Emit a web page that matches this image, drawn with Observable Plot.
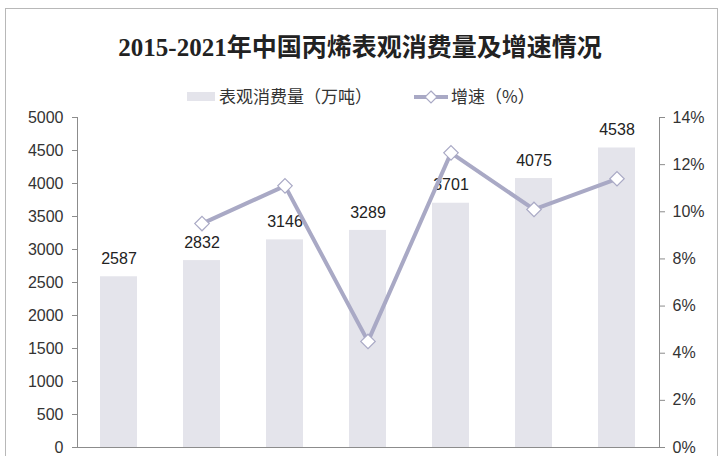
<!DOCTYPE html>
<html><head><meta charset="utf-8">
<script src="https://cdn.jsdelivr.net/npm/d3@7"></script>
<script src="https://cdn.jsdelivr.net/npm/@observablehq/plot@0.6"></script>
<style>
body{margin:0;background:#fff;}
#wrap{position:relative;width:720px;height:456px;overflow:hidden;font-family:"Liberation Sans",Arial,sans-serif;background:#fff;}
#frame{position:absolute;left:5px;top:8px;width:711px;height:470px;border:1px solid #b8b8b8;}
#title{position:absolute;left:0;top:27px;width:720px;text-align:center;font:bold 25px "Liberation Serif","Noto Sans CJK SC",serif;color:#222;white-space:nowrap;}
.lg{position:absolute;top:85px;font:17px "Noto Sans CJK SC",sans-serif;color:#333;white-space:nowrap;line-height:22px;}
#sw1{position:absolute;left:187px;top:92px;width:28px;height:9px;background:#e4e4eb;}
#sw2{position:absolute;left:412px;top:87px;}
#chart{position:absolute;left:0;top:105px;}
</style></head>
<body>
<div id="wrap">
  <div id="frame"></div>
  <div id="title">2015-2021年中国丙烯表观消费量及增速情况</div>
  <div id="sw1"></div>
  <div class="lg" style="left:219px">表观消费量（万吨）</div>
  <svg id="sw2" width="38" height="20"><line x1="2" y1="10" x2="36" y2="10" stroke="#a9a9c5" stroke-width="4"/><path d="M19,4 L25,10 L19,16 L13,10 Z" fill="#fff" stroke="#a9a9c5" stroke-width="1.2"/></svg>
  <div class="lg" style="left:451px">增速（%）</div>
  <div id="chart"></div>
</div>
<script>
const years = ["2015","2016","2017","2018","2019","2020","2021"];
const consumption = [2587, 2832, 3146, 3289, 3701, 4075, 4538];
const growthYears = ["2016","2017","2018","2019","2020","2021"];
const growth = [9.5, 11.1, 4.5, 12.5, 10.1, 11.4];
const leftTicks = [0,500,1000,1500,2000,2500,3000,3500,4000,4500,5000];
const pctTicks = [0,2,4,6,8,10,12,14];
const yMax = 5000, pMax = 14;

const bars = years.map((y,i)=>({year:y, value:consumption[i]}));
const rate = growthYears.map((y,i)=>({year:y, g:growth[i]}));
const toY = g => g * yMax / pMax;

const chart = Plot.plot({
  width: 720, height: 351,
  marginTop: 12, marginBottom: 9, marginLeft: 77, marginRight: 61,
  x: {domain: years, paddingInner: 0.55, paddingOuter: 0.275, axis: null},
  y: {domain: [0, yMax], axis: null},
  style: {fontFamily: '"Liberation Sans", Arial, sans-serif', background: "transparent"},
  marks: [
    Plot.barY(bars, {x: "year", y: "value", fill: "#e4e4eb"}),
    Plot.ruleY([0], {stroke: "#8c8c8c"}),
    Plot.frame({anchor: "left", stroke: "#8c8c8c"}),
    Plot.frame({anchor: "right", stroke: "#8c8c8c"}),
    Plot.axisY(leftTicks, {anchor: "left", label: null, tickSize: 5, tickPadding: 9, stroke: "#8c8c8c", fill: "#333", fontSize: 16, tickFormat: d => String(d)}),
    Plot.axisY(pctTicks.map(toY), {anchor: "right", label: null, tickSize: 5, tickPadding: 8, stroke: "#8c8c8c", fill: "#333", fontSize: 16, tickFormat: d => Math.round(d * pMax / yMax) + "%"}),
    Plot.text(bars, {x: "year", y: "value", text: d => String(d.value), dy: -18, fontSize: 16, fill: "#222"}),
    Plot.line(rate, {x: "year", y: d => toY(d.g), stroke: "#a9a9c5", strokeWidth: 4}),
    Plot.dot(rate, {x: "year", y: d => toY(d.g), symbol: "diamond2", r: 6.5, fill: "#fff", stroke: "#a9a9c5", strokeWidth: 1.2})
  ]
});
document.getElementById("chart").appendChild(chart);
</script>
</body></html>
